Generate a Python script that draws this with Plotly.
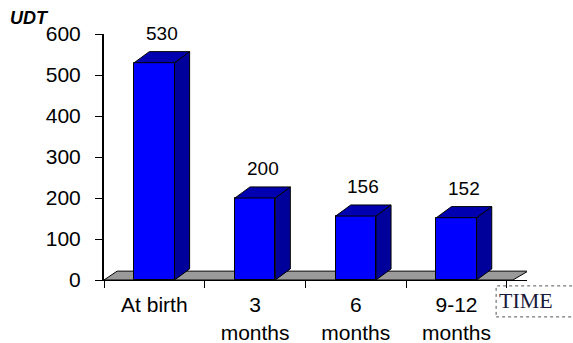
import plotly.graph_objects as go

# ---- data -------------------------------------------------------------
categories = ["At birth", "3<br>months", "6<br>months", "9-12<br>months"]
udt_values = [530, 200, 156, 152]
y_ticks = [0, 100, 200, 300, 400, 500, 600]

# ---- 3-D look parameters (axis units) ---------------------------------
bar_w = 0.4      # bar width in category units
dx = 0.15        # depth offset along x
dy = 27          # depth offset along y

FRONT = "#0000FF"
TOP = "#0000B0"
SIDE = "#00009A"
FONT = "Liberation Sans, Arial, sans-serif"

xs = list(range(len(udt_values)))

fig = go.Figure()

# front faces
fig.add_trace(go.Bar(
    x=xs, y=udt_values, width=bar_w,
    marker=dict(color=FRONT, line=dict(color="black", width=1)),
    hoverinfo="skip", showlegend=False,
))

# right side faces and top faces, derived from the bar values
side_x, side_y, top_x, top_y = [], [], [], []
for i, v in zip(xs, udt_values):
    r = i + bar_w / 2
    l = i - bar_w / 2
    side_x += [r, r + dx, r + dx, r, r, None]
    side_y += [0, dy, v + dy, v, 0, None]
    top_x += [l, r, r + dx, l + dx, l, None]
    top_y += [v, v, v + dy, v + dy, v, None]

fig.add_trace(go.Scatter(
    x=side_x, y=side_y, mode="lines", fill="toself", fillcolor=SIDE,
    line=dict(color="black", width=1), hoverinfo="skip", showlegend=False,
))
fig.add_trace(go.Scatter(
    x=top_x, y=top_y, mode="lines", fill="toself", fillcolor=TOP,
    line=dict(color="black", width=1), hoverinfo="skip", showlegend=False,
))

# grey floor under the bars
fig.add_shape(
    type="path", xref="x", yref="y", layer="below",
    path=f"M -0.5 0 L 3.56 0 L {3.56 + dx} {dy * 0.8} L {-0.5 + dx * 0.87} {dy * 0.8} Z",
    fillcolor="#9a9a9a", line=dict(color="black", width=1),
)

# value labels above each bar
for i, v in zip(xs, udt_values):
    fig.add_annotation(
        x=i + dx / 2, y=v + dy, text=str(v), showarrow=False,
        xanchor="center", yanchor="bottom", yshift=6, xshift=0,
        font=dict(family=FONT, size=19, color="black"),
    )

# axis titles
fig.add_annotation(
    xref="paper", yref="paper", x=-0.227, y=1.065, xanchor="left", yanchor="middle",
    text="<b><i>UDT</i></b>", showarrow=False,
    font=dict(family=FONT, size=18, color="black"),
)
fig.add_annotation(
    xref="paper", yref="paper", x=0.929, y=-0.085, xanchor="left", yanchor="middle",
    text="TIME", showarrow=False,
    font=dict(family="Liberation Serif, Times New Roman, serif", size=22, color="#1a1a3a"),
)
fig.add_shape(
    type="rect", xref="paper", yref="paper",
    x0=0.927, x1=1.115, y0=-0.150, y1=-0.024,
    line=dict(color="#555555", width=1, dash="dot"),
)

fig.update_layout(
    width=573, height=343,
    margin=dict(l=104, r=46, t=34, b=63),
    plot_bgcolor="white", paper_bgcolor="white",
    bargap=0,
    xaxis=dict(
        range=[-0.5, 3.7], tickvals=xs, ticktext=categories,
        ticks="", showgrid=False, zeroline=False, automargin=False,
        showline=True, linecolor="black", linewidth=1,
        tickfont=dict(family=FONT, size=21, color="black"),
        ticklabelstandoff=6,
        minor=dict(ticks="outside", tick0=-0.5, dtick=1, ticklen=7,
                   tickcolor="black", showgrid=False),
    ),
    yaxis=dict(
        range=[0, 600], tickvals=y_ticks, ticks="outside", ticklen=7,
        tickwidth=1, tickcolor="black", showgrid=False, zeroline=False,
        automargin=False, showline=True, linecolor="black", linewidth=2,
        tickfont=dict(family=FONT, size=21, color="black"),
        ticklabelstandoff=10,
    ),
)

fig.write_html("out.html")
